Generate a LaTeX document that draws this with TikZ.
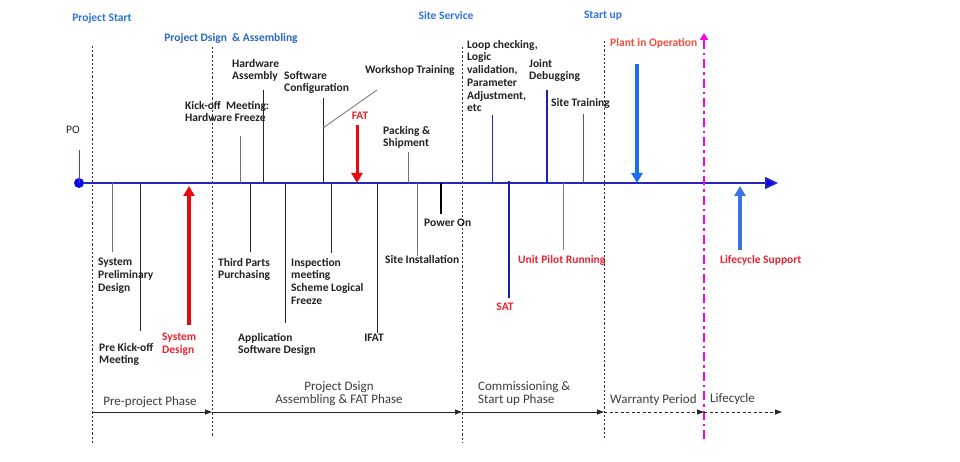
\documentclass[tikz,border=0pt]{standalone}
\usepackage{fontspec}
\setmainfont{Carlito}
\usetikzlibrary{arrows.meta}
\definecolor{axisblue}{RGB}{38,38,192}
\definecolor{tipblue}{RGB}{10,10,235}
\definecolor{topblue}{RGB}{45,115,215}
\definecolor{redarrow}{RGB}{232,10,16}
\definecolor{redtxt}{RGB}{232,36,48}
\definecolor{orangered}{RGB}{240,80,60}
\definecolor{arrowblue}{RGB}{26,110,240}
\definecolor{arrowblue2}{RGB}{58,112,232}
\definecolor{txtdark}{RGB}{34,34,34}
\definecolor{phasetxt}{RGB}{60,60,60}
\definecolor{magentaline}{RGB}{255,0,230}
\begin{document}
\begin{tikzpicture}[x=1pt,y=-1pt,
  lbl/.style={inner sep=0pt, anchor=north west, align=left, text=txtdark,
    font=\fontsize{11.5}{12.7}\selectfont\bfseries},
  lblc/.style={lbl, anchor=center, align=center},
  toplbl/.style={lblc, text=topblue},
  redlbl/.style={lbl, text=redtxt},
  phase/.style={inner sep=0pt, text=phasetxt, font=\fontsize{13}{13.6}\selectfont},
  tick/.style={line width=0.8pt, draw=black!85},
  gtick/.style={line width=0.8pt, draw=black!55},
  btick/.style={line width=0.9pt, draw=axisblue},
  vdiv/.style={line width=0.7pt, draw=black!80, dash pattern=on 2.2pt off 2pt},
  bigarrow/.style={line width=3.2pt, -{Triangle[length=10pt,width=11pt]}},
  phasearrow/.style={line width=0.8pt, draw=black!85, -{Triangle[length=7pt,width=5pt]}},
  phasedash/.style={phasearrow, dash pattern=on 3pt off 2.5pt}]
\useasboundingbox (0,0) rectangle (960,462);
\fill[white] (0,0) rectangle (960,462);

% vertical phase dividers
\coordinate (d1t) at (92.7,46); \coordinate (d1b) at (92.7,445);
\coordinate (d2t) at (212,47);  \coordinate (d2b) at (212,437);
\coordinate (d3t) at (462,47);  \coordinate (d3b) at (462,442);
\coordinate (d4t) at (604,41);  \coordinate (d4b) at (604,440);
\draw[vdiv] (d1t) -- (d1b);
\draw[vdiv] (d2t) -- (d2b);
\draw[vdiv] (d3t) -- (d3b);
\draw[vdiv] (d4t) -- (d4b);

% top phase titles
\node[toplbl] (projstart) at (102,18) {Project Start};
\node[toplbl, text=topblue!90!black] (pdsign) at (231,38) {Project Dsign~ \& Assembling};
\node[toplbl] (siteserv) at (446,16) {Site Service};
\node[toplbl] (startup) at (603,16) {Start up};
\node[lbl, text=orangered] (plant) at (610,38) {Plant in Operation};

% PO
\node[inner sep=0pt, anchor=north west, text=txtdark, font=\fontsize{11.5}{12.7}\selectfont] (po) at (66,126) {PO};
\node[circle, fill=tipblue, inner sep=0pt, minimum size=10pt] (podot) at (79,183) {};
\coordinate (potop) at (79,150);
\draw[line width=0.9pt, draw=tipblue!80] (podot.center) -- (potop);

% main axis
\coordinate (axend) at (778,183);
\draw[line width=1.6pt, draw=axisblue, -{Triangle[length=13pt,width=12pt,fill=tipblue]}] (podot) -- (axend);

% labels above the axis
\node[lbl] (kickoff) at (185,101) {Kick-off~ Meeting:\\Hardware Freeze};
\node[lbl] (hwasm) at (232,59) {Hardware\\Assembly};
\node[lbl] (swconf) at (284,71) {Software\\Configuration};
\node[lbl] (workshop) at (365,65) {Workshop Training};
\node[lblc, text=redtxt] (fat) at (360,116) {FAT};
\node[lbl] (packing) at (383,126) {Packing \&\\Shipment};
\node[lbl] (loop) at (467,40) {Loop checking,\\Logic\\validation,\\Parameter\\Adjustment,\\etc};
\node[lbl] (joint) at (529,59) {Joint\\Debugging};
\node[lbl] (sitetrain) at (551,98) {Site Training};

% ticks above the axis
\coordinate (k1) at (240,183); \coordinate (k2) at (240,136);
\draw[gtick] (k1) -- (k2);
\coordinate (h1) at (263,183); \coordinate (h2) at (263,90);
\draw[tick] (h1) -- (h2);
\coordinate (s1) at (323,183); \coordinate (s2) at (323,98);
\draw[tick] (s1) -- (s2);
\coordinate (w1) at (323,128); \coordinate (w2) at (377,90);
\draw[gtick] (w1) -- (w2);
\coordinate (f1) at (357,125); \coordinate (f2) at (357,183);
\draw[bigarrow, draw=redarrow, line width=3pt] (f1) -- (f2);
\coordinate (p1) at (408,183); \coordinate (p2) at (408,152);
\draw[gtick] (p1) -- (p2);
\coordinate (l1) at (492,183); \coordinate (l2) at (492,115);
\draw[btick, line width=0.8pt] (l1) -- (l2);
\coordinate (j1) at (547,183); \coordinate (j2) at (547,90);
\draw[btick, line width=1.1pt, draw=axisblue!85!black] (j1) -- (j2);
\coordinate (st1) at (583,183); \coordinate (st2) at (583,114);
\draw[line width=0.8pt, draw=blue!35!gray] (st1) -- (st2);
\coordinate (pl1) at (637,64); \coordinate (pl2) at (637,183);
\draw[bigarrow, draw=arrowblue] (pl1) -- (pl2);

% labels below the axis
\node[lbl] (syspre) at (98,258) {System\\Preliminary\\Design};
\node[lbl] (prekick) at (99,343) {Pre Kick-off\\Meeting};
\node[redlbl] (sysdesign) at (162,333) {System\\Design};
\node[lbl] (third) at (218,258) {Third Parts\\Purchasing};
\node[lbl] (appsw) at (238,333) {Application\\Software Design};
\node[lbl] (inspect) at (291,258) {Inspection\\meeting\\Scheme Logical\\Freeze};
\node[lblc] (ifat) at (374,338) {IFAT};
\node[lbl] (siteinst) at (385,255) {Site Installation};
\node[lbl] (poweron) at (424,219) {Power On};
\node[lblc, text=redtxt] (sat) at (505,307) {SAT};
\node[redlbl] (unitpilot) at (518,255) {Unit Pilot Running};
\node[redlbl] (lifesup) at (720,255) {Lifecycle Support};

% ticks below the axis
\coordinate (sp1) at (112,183); \coordinate (sp2) at (112,252);
\draw[gtick] (sp1) -- (sp2);
\coordinate (pk1) at (140,183); \coordinate (pk2) at (140,331);
\draw[tick] (pk1) -- (pk2);
\coordinate (sd1) at (189,325); \coordinate (sd2) at (189,186);
\draw[bigarrow, draw=redarrow] (sd1) -- (sd2);
\coordinate (tp1) at (250,183); \coordinate (tp2) at (250,252);
\draw[tick] (tp1) -- (tp2);
\coordinate (as1) at (285,183); \coordinate (as2) at (285,323);
\draw[tick] (as1) -- (as2);
\coordinate (im1) at (331,183); \coordinate (im2) at (331,253);
\draw[tick] (im1) -- (im2);
\coordinate (if1) at (377,183); \coordinate (if2) at (377,333);
\draw[tick] (if1) -- (if2);
\coordinate (si1) at (417,183); \coordinate (si2) at (417,256);
\draw[gtick] (si1) -- (si2);
\coordinate (po1) at (441,183); \coordinate (po2) at (441,214);
\draw[line width=2pt, draw=black] (po1) -- (po2);
\coordinate (sa1) at (509,181); \coordinate (sa2) at (509,298);
\draw[btick, line width=1.3pt, draw=axisblue!80!black] (sa1) -- (sa2);
\coordinate (up1) at (563,183); \coordinate (up2) at (563,250);
\draw[line width=0.9pt, draw=blue!55!white!80!gray] (up1) -- (up2);
\coordinate (ls1) at (740,250); \coordinate (ls2) at (740,186);
\draw[bigarrow, draw=arrowblue2] (ls1) -- (ls2);

% magenta boundary
\coordinate (mgb) at (704,439); \coordinate (mgt) at (704,33);
\draw[line width=2.6pt, draw=magentaline, dash pattern=on 9pt off 4pt on 2.5pt off 4pt,
  -{Triangle[length=7pt,width=8pt]}] (mgb) -- (mgt);

% phase arrows
\coordinate (ph0) at (92.7,412); \coordinate (ph1) at (212,412);
\coordinate (ph2) at (462,412); \coordinate (ph3) at (604,412);
\coordinate (ph4) at (704,412); \coordinate (ph5) at (782,412);
\draw[phasearrow] (ph0) -- (ph1);
\draw[phasearrow] (ph1) -- (ph2);
\draw[phasearrow] (ph2) -- (ph3);
\draw[phasedash] (ph3) -- (ph4);
\draw[phasedash] (ph4) -- (ph5);

\node[phase, anchor=center] (preproj) at (150,402) {Pre-project Phase};
\node[phase, anchor=center, align=center] (pdphase) at (339,393.5) {Project Dsign\\Assembling \& FAT Phase};
\node[phase, anchor=west, align=left] (commphase) at (478,393.5) {Commissioning \&\\Start up Phase};
\node[phase, anchor=west] (warranty) at (610,400) {Warranty Period};
\node[phase, anchor=west] (lifecycle) at (710,399) {Lifecycle};
\end{tikzpicture}
\end{document}
